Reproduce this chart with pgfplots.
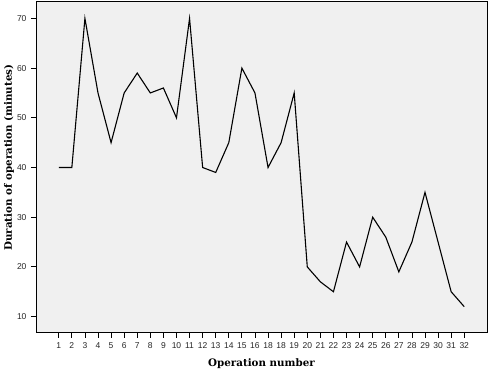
\documentclass[border=0pt]{standalone}
\usepackage{fontspec}
\setmainfont{Liberation Serif}
\setsansfont{Liberation Sans}
\newfontfamily\labelfont{DejaVu Serif}
\usepackage{pgfplots}
\pgfplotsset{compat=1.18}
\begin{document}
\begin{tikzpicture}[x=1pt,y=1pt]
\useasboundingbox (0,0) rectangle (488,369);
\begin{axis}[
  at={(36pt,36pt)}, anchor=south west,
  scale only axis, width=451pt, height=331pt,
  xmin=-0.74, xmax=33.74, ymin=6.7, ymax=73.3,
  axis background/.style={fill=black!6},
  axis line style={black, line width=1pt},
  xtick={1,...,32},
  xticklabels={1,2,3,4,5,6,7,8,9,10,11,12,13,14,15,16,18,18,19,20,21,22,23,24,25,26,27,28,29,30,31,32},
  ytick={10,20,30,40,50,60,70},
  tick align=outside, tick pos=left,
  major tick length=5pt,
  tick style={black, line width=0.8pt},
  /pgf/number format/assume math mode=true,
  tick label style={font=\sffamily\fontsize{8.5}{10}\selectfont, text=black!85},
  xticklabel style={yshift=-1pt},
  yticklabel style={xshift=-1pt},
  xlabel={\labelfont\bfseries\fontsize{10.3}{12}\selectfont Operation number},
  ylabel={\labelfont\bfseries\fontsize{10.3}{12}\selectfont Duration of operation (minutes)},
  every axis x label/.style={at={(axis description cs:0.5,-0.1)}, anchor=base},
  every axis y label/.style={at={(axis description cs:-0.06,0.53)}, rotate=90, anchor=center},
]
\addplot[black, line width=1.1pt, mark=none] coordinates {
(1,40) (2,40) (3,70) (4,55) (5,45) (6,55) (7,59) (8,55) (9,56) (10,50)
(11,70) (12,40) (13,39) (14,45) (15,60) (16,55) (17,40) (18,45) (19,55) (20,20)
(21,17) (22,15) (23,25) (24,20) (25,30) (26,26) (27,19) (28,25) (29,35) (30,25)
(31,15) (32,12)
};
\end{axis}
\end{tikzpicture}
\end{document}
